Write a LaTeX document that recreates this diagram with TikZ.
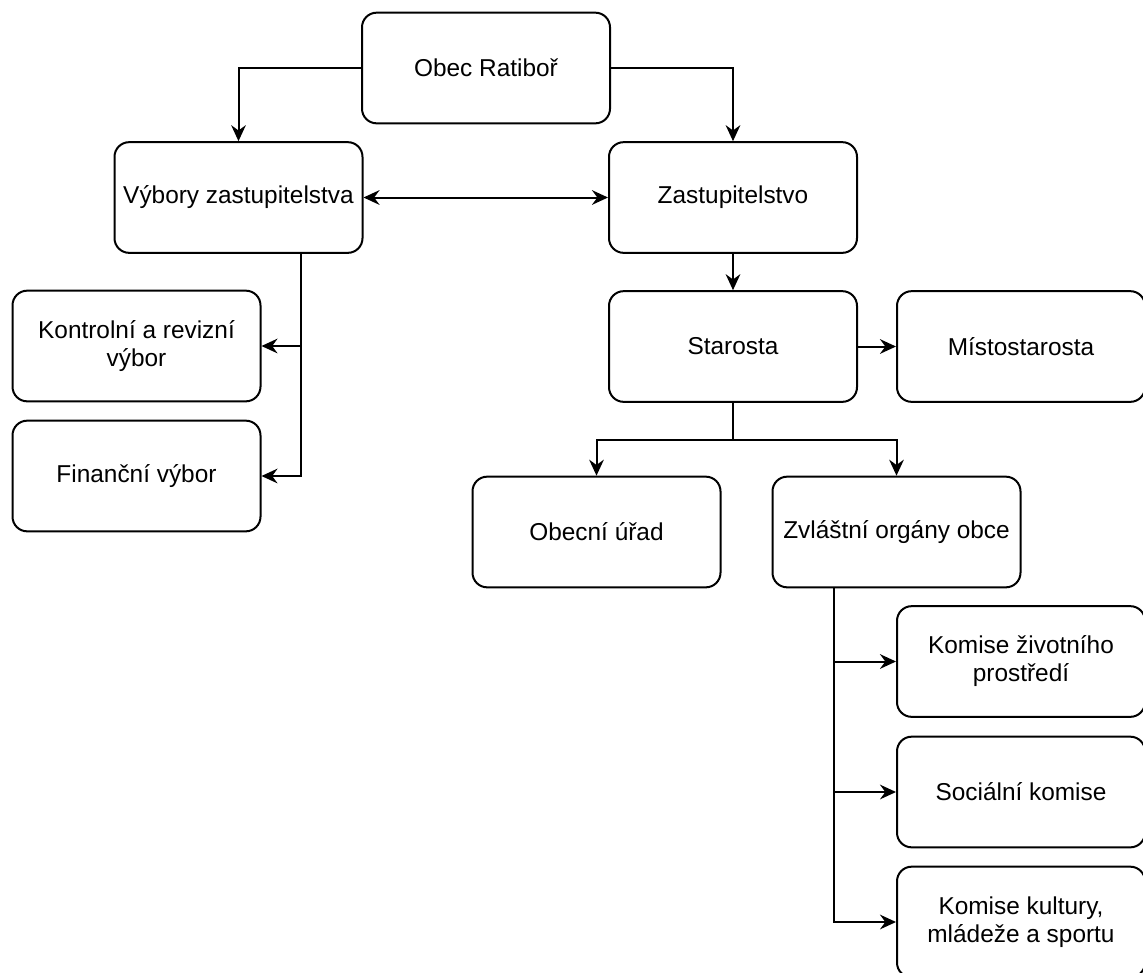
\documentclass[tikz,border=0pt]{standalone}
\usepackage{fontspec}
\setmainfont{Liberation Sans}
\usetikzlibrary{arrows.meta,positioning,calc}

\begin{document}
\begin{tikzpicture}[x=0.75pt,y=-0.75pt,line width=1.5pt,
  arr/.style={-{Stealth[length=12pt,width=11pt,inset=4pt]}},
  darr/.style={{Stealth[length=12pt,width=11pt,inset=4pt]}-{Stealth[length=12pt,width=11pt,inset=4pt]}},
  block/.style={rounded corners=11pt,draw,fill=white,align=center,minimum width=186pt,minimum height=83pt,inner sep=2pt,font=\fontsize{18.3}{21}\selectfont}]
\useasboundingbox (0,0) rectangle (1143,972);
% top levels
\node[block] (obec) at (486,68) {Obec Ratiboř};
\node[block] (vybory) at (238.5,197.5) {Výbory zastupitelstva};
\node[block] (zastup) at (733,197.5) {Zastupitelstvo};
\node[block] (kontrol) at (136.5,346) {Kontrolní a revizní\\výbor};
\node[block] (financni) at (136.5,476) {Finanční výbor};
\node[block] (starosta) at (733,346.5) {Starosta};
\node[block] (misto) at (1021,346.5) {Místostarosta};
\node[block] (urad) at (596.5,532) {Obecní úřad};
\node[block] (zvlastni) at (896.5,532) {Zvláštní orgány obce};
% commissions
\node[block] (zivot) at (1021,661.5) {Komise životního\\prostředí};
\node[block] (social) at (1021,792) {Sociální komise};
\node[block] (kultura) at (1021,922) {Komise kultury,\\mládeže a sportu};
\coordinate (vtrunk) at ($(vybory.south west)!0.75!(vybory.south east)$);
\coordinate (ztrunk) at ($(zvlastni.south west)!0.25!(zvlastni.south east)$);
\coordinate (fork) at (733,439.5);
\draw[arr] (obec.west) -| (vybory.north);
\draw[arr] (obec.east) -| (zastup.north);
\draw[darr] (vybory.east) -- (zastup.west);
\draw[arr] (zastup.south) -- (starosta.north);
\draw[arr] (starosta.east) -- (misto.west);
\draw[arr] (vtrunk) |- (kontrol.east);
\draw[arr] (vtrunk) |- (financni.east);
\draw (starosta.south) -- (fork);
\draw[arr] (fork) -| (urad.north);
\draw[arr] (fork) -| (zvlastni.north);
\draw[arr] (ztrunk) |- (zivot.west);
\draw[arr] (ztrunk) |- (social.west);
\draw[arr] (ztrunk) |- (kultura.west);
\end{tikzpicture}
\end{document}
